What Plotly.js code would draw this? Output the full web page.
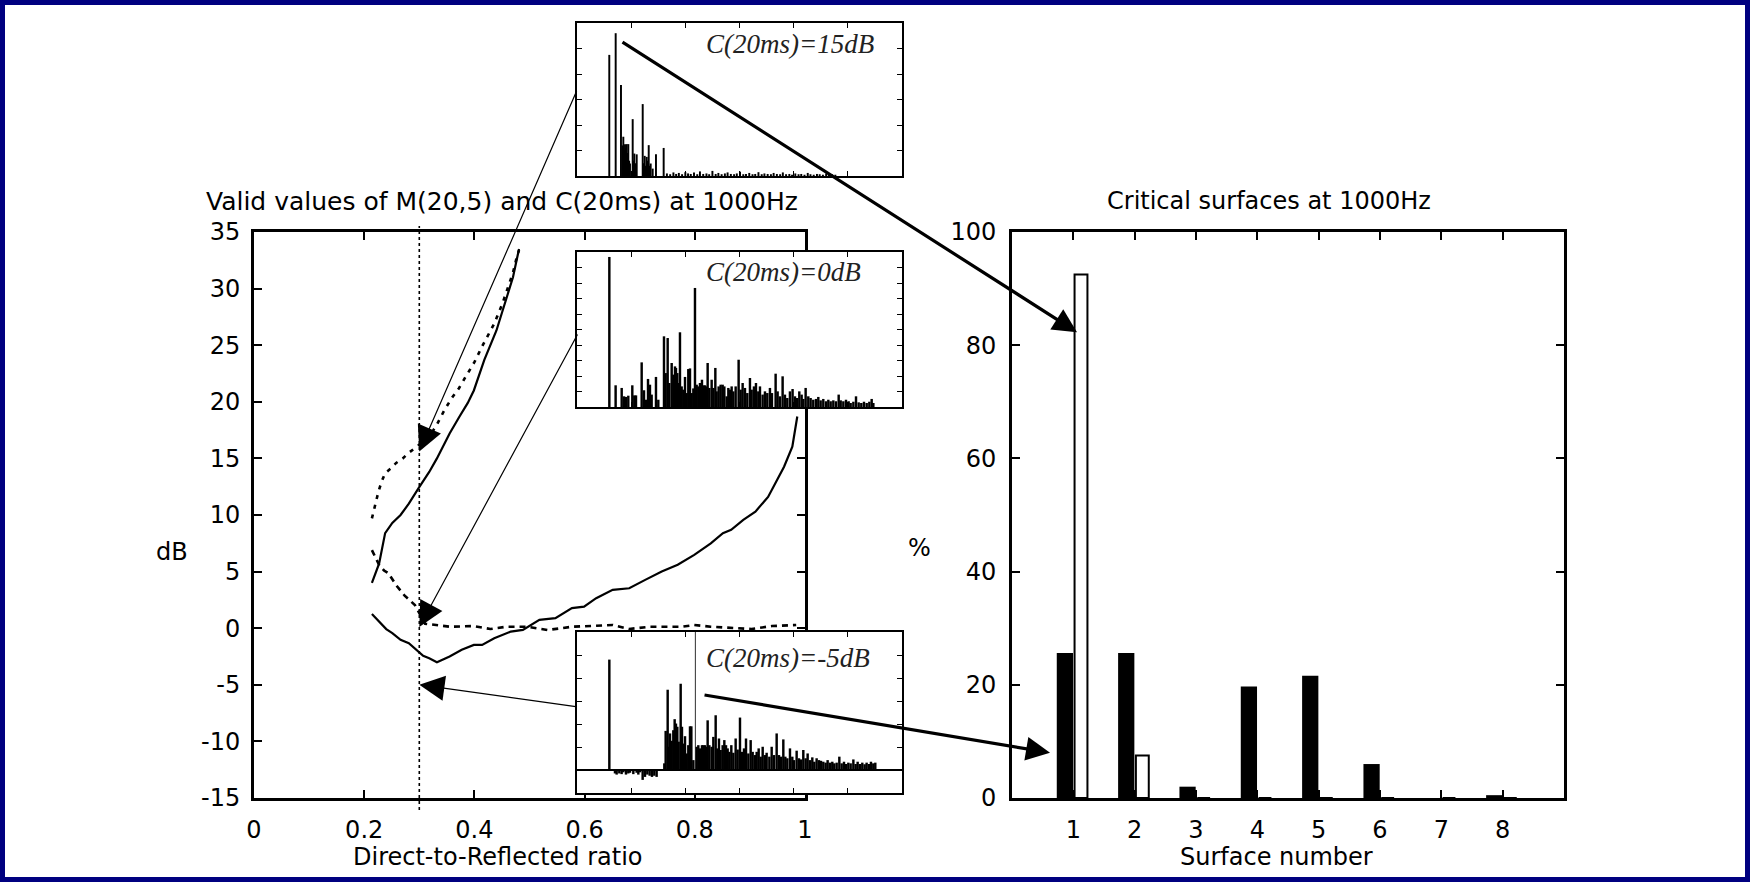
<!DOCTYPE html>
<html><head><meta charset="utf-8">
<script src="https://cdn.plot.ly/plotly-3.0.1.min.js"></script>
<style>html,body{margin:0;padding:0;background:#fff;}#chart{width:1750px;height:882px;}</style>
</head><body><div id="chart"></div>
<script>
// ---------- Left chart: valid values of M(20,5) and C(20ms) ----------
const solidUpperX = [0.214,0.227,0.238,0.251,0.266,0.281,0.299,0.318,0.332,0.355,0.373,0.388,0.399,0.418,0.440,0.458,0.470,0.481];
const solidUpperY = [4.0,5.7,8.4,9.3,10.0,11.0,12.4,13.8,15.0,17.2,18.7,19.9,21.0,23.7,26.3,29.0,31.0,33.5];
const dottedUpperX = [0.214,0.220,0.226,0.232,0.238,0.248,0.258,0.270,0.281,0.292,0.303,0.318,0.332,0.346,0.360,0.372,0.384,0.400,0.414,0.426,0.436,0.451,0.462,0.470,0.477,0.481];
const dottedUpperY = [9.7,11.0,12.1,13.0,13.7,14.1,14.6,15.0,15.5,15.9,16.3,16.9,18.0,19.3,20.4,21.2,22.2,23.5,24.9,26.0,26.9,28.7,30.2,31.4,32.8,33.4];
const dottedLowerX = [0.214,0.220,0.227,0.236,0.244,0.258,0.273,0.292,0.300,0.3105,0.355,0.399,0.429,0.458,0.496,0.533,0.577,0.651,0.681,0.718,0.777,0.799,0.829,0.903,0.940,0.984];
const dottedLowerY = [6.9,6.3,5.6,5.1,4.85,3.8,2.9,2.05,1.3,0.4,0.13,0.19,-0.07,0.13,0.13,-0.16,0.13,0.28,-0.07,0.13,0.13,0.28,0.13,-0.07,0.19,0.28];
const solidLowerX = [0.214,0.229,0.240,0.251,0.266,0.281,0.295,0.307,0.318,0.332,0.355,0.377,0.399,0.414,0.436,0.466,0.488,0.518,0.547,0.577,0.599,0.621,0.651,0.681,0.710,0.740,0.769,0.799,0.829,0.851,0.866,0.888,0.910,0.933,0.962,0.977,0.986];
const solidLowerY = [1.25,0.45,-0.08,-0.43,-1.02,-1.32,-1.91,-2.44,-2.65,-3.0,-2.5,-1.91,-1.48,-1.48,-0.89,-0.3,-0.15,0.74,0.89,1.77,1.91,2.65,3.39,3.53,4.27,5.0,5.6,6.48,7.5,8.4,8.69,9.57,10.3,11.6,14.27,16.03,18.7];
const markerRatio = 0.3;
const leftXTicks = [0,0.2,0.4,0.6,0.8,1];
const leftXTickText = ['0','0.2','0.4','0.6','0.8','1'];
const leftYTicks = [-15,-10,-5,0,5,10,15,20,25,30,35];
const leftYTickText = ['-15','-10','-5','0','5','10','15','20','25','30','35'];

// ---------- Right chart: critical surfaces ----------
const surfaces = [1,2,3,4,5,6,7,8];
const filledPct = [25.6,25.6,2.0,19.7,21.6,6.0,0,0.5];
const openPct = [92.5,7.5,0,0,0,0,0,0];
const rightYTicks = [0,20,40,60,80,100];

// ---------- Inset impulse responses ----------
const inset1X = [0.596,0.714,0.812,0.84,0.855,0.87,0.886,0.902,0.917,0.932,0.947,0.962,0.978,1.028,1.043,1.058,1.08,1.102,1.213,1.23,1.25,1.268,1.287,1.305,1.324,1.342,1.36,1.397,1.458,1.6,
 1.66,1.72,1.78,1.83,1.88,1.94,2.0,2.05,2.1,2.16,2.22,2.27,2.33,2.39,2.44,2.5,2.56,2.61,2.67,2.73,2.78,2.84,2.9,2.95,3.01,3.07,3.12,3.18,3.24,3.29,3.35,3.41,3.46,3.52,3.58,3.63,3.69,3.75,3.8,3.86,3.92,3.97,4.03,4.09,4.14,4.2,4.26,4.31,4.37,4.43,4.48,4.54,4.6,4.65,4.71,4.77];
const inset1Y = [4.75,5.6,3.57,1.2,1.54,1.0,1.25,1.1,1.25,0.9,1.25,0.6,0.49,2.23,0.6,0.88,0.5,0.85,2.82,0.5,0.79,0.4,0.75,0.6,1.21,0.4,0.49,0.29,0.85,1.1,
 0.1,0.07,0.14,0.08,0.12,0.07,0.15,0.1,0.08,0.14,0.07,0.18,0.08,0.1,0.07,0.2,0.08,0.12,0.07,0.1,0.14,0.08,0.07,0.1,0.17,0.07,0.08,0.12,0.07,0.08,0.15,0.07,0.1,0.08,0.07,0.12,0.08,0.07,0.14,0.07,0.08,0.05,0.1,0.07,0.08,0.05,0.12,0.07,0.05,0.08,0.07,0.05,0.1,0.05,0.07,0.05];

const inset2X = [0.597,0.713,0.825,0.868,0.905,0.947,1.021,1.058,1.089,1.194,1.237,1.274,1.311,1.347,1.378,1.458,1.501,1.606,1.637,1.674,1.704,1.748,1.778,1.809,1.827,1.852,1.877,1.901,1.932,1.963,1.994,2.024,2.055,2.086,2.117,2.148,2.178,2.209,2.24,2.27,2.307,2.332,2.363,2.394,2.412,2.443,2.486,2.517,2.554,2.578,2.615,2.652,2.689,2.72,2.763,2.794,2.824,2.855,2.886,2.929,2.984,3.021,3.058,3.101,3.144,3.193,3.224,3.267,3.304,3.347,3.378,3.427,3.47,3.513,3.562,3.599,3.667,3.704,3.747,3.796,3.839,3.882,3.931,3.98,4.024,4.061,4.104,4.147,4.178,4.221,4.27,4.313,4.362,4.412,4.455,4.498,4.547,4.597,4.64,4.683,4.732,4.781,4.831,4.868,4.917,4.966,5.015,5.052,5.102,5.151,5.2,5.249,5.298,5.348,5.397,5.44,5.471];
const inset2Y = [9.68,1.4,1.23,0.69,0.65,0.73,1.4,0.75,0.75,2.88,1.08,0.47,1.81,1.44,0.8,1.94,0.47,4.56,2.19,4.45,1.55,2.84,2.09,2.62,2.52,2.19,1.55,4.82,1.33,1.12,1.94,0.9,2.45,2.49,0.9,1.2,7.68,1.44,1.33,1.55,1.76,1.4,1.4,1.33,2.84,1.23,1.76,1.23,2.52,1.01,1.33,1.44,1.44,1.33,0.69,1.23,1.12,1.33,1.01,1.33,3.05,1.12,1.55,1.23,0.9,1.87,1.12,1.33,1.55,1.01,1.33,0.8,1.01,0.9,1.23,0.9,2.15,1.01,0.69,1.98,0.8,0.58,1.01,1.16,0.69,0.58,1.01,0.8,0.52,1.23,0.69,0.58,0.47,0.52,0.65,0.43,0.52,0.37,0.47,0.37,0.43,0.37,0.8,0.43,0.37,0.47,0.37,0.26,0.34,0.69,0.3,0.26,0.34,0.26,0.34,0.52,0.26];

const inset3X = [0.597,0.701,0.732,0.781,0.824,0.855,0.904,0.947,0.978,1.04,1.101,1.132,1.163,1.212,1.255,1.298,1.341,1.384,1.427,1.47,
 1.612,1.637,1.674,1.698,1.717,1.748,1.778,1.803,1.827,1.852,1.877,1.914,1.938,1.963,1.994,2.024,2.055,2.086,2.111,2.148,
 2.209,2.240,2.270,2.307,2.332,2.363,2.394,2.412,2.443,2.486,2.517,2.560,2.591,2.621,2.652,2.689,2.720,2.751,2.781,2.812,2.849,2.886,2.929,2.966,3.009,3.046,3.083,3.120,3.163,3.206,3.243,3.286,3.317,3.354,3.391,3.428,3.471,3.501,3.551,3.594,3.637,3.686,3.729,3.766,3.809,3.846,3.883,3.932,3.975,4.006,4.055,4.098,4.135,4.178,4.221,4.258,4.301,4.344,4.381,4.424,4.467,4.504,4.547,4.590,4.627,4.670,4.713,4.750,4.794,4.843,4.886,4.929,4.966,5.009,5.052,5.102,5.144,5.181,5.224,5.267,5.310,5.347,5.390,5.427,5.470,5.507];
const inset3Y = [4.8,-0.15,-0.2,-0.15,-0.18,-0.1,-0.2,-0.15,-0.12,-0.18,-0.12,-0.2,-0.1,-0.43,-0.3,-0.2,-0.25,-0.3,-0.25,-0.3,
 0.29,1.7,3.49,1.01,1.59,1.27,1.73,2.21,2.02,1.88,1.23,3.75,1.88,1.15,1.47,0.72,1.08,1.9,1.9,0.43,
 1.01,1.08,0.94,1.08,1.08,1.08,1.01,2.16,1.08,1.01,1.44,2.38,0.94,1.37,0.87,1.08,1.3,1.08,0.94,0.79,1.08,0.75,1.37,0.89,2.28,0.79,0.94,1.37,0.72,1.3,0.79,0.65,0.79,0.94,0.58,1.01,0.65,0.75,0.58,1.01,0.65,1.59,0.65,0.58,1.33,0.58,0.51,0.94,0.58,0.43,0.84,0.51,0.46,0.87,0.51,0.72,0.43,0.55,0.36,0.51,0.43,0.4,0.36,0.32,0.43,0.32,0.36,0.29,0.32,0.58,0.29,0.36,0.26,0.32,0.29,0.46,0.26,0.36,0.26,0.32,0.25,0.32,0.26,0.36,0.29,0.32];
const inset3MarkerX = [2.184];
const inset3MarkerY = [6];

const insetLabels = ['C(20ms)=15dB','C(20ms)=0dB','C(20ms)=-5dB'];

// ---------- layout helpers (pixel geometry) ----------
const W = 1750, H = 882;
const fx = v => v / W;
const fy = v => 1 - v / H;
const SANS = 'DejaVu Sans';

const mainAxis = {showline:true, linewidth:3, linecolor:'#000', mirror:'ticks', ticks:'inside', ticklen:8, tickwidth:2, tickcolor:'#000',
  showgrid:false, zeroline:false, tickfont:{family:SANS, size:24, color:'#000'}, fixedrange:true};
const insetAxis = {showline:true, linewidth:2, linecolor:'#000', mirror:'ticks', ticks:'inside', ticklen:5, tickwidth:1, tickcolor:'#000',
  showgrid:false, zeroline:false, showticklabels:false, tick0:0, dtick:1, fixedrange:true};

const lineTrace = (x, y, dash) => ({type:'scatter', mode:'lines', x:x, y:y, xaxis:'x', yaxis:'y',
  line:{color:'#000', width: dash ? 2.6 : 2.2, dash: dash || 'solid'}, hoverinfo:'skip'});
const spikeTrace = (x, y, ax, w) => ({type:'bar', x:x, y:y, xaxis:'x'+ax, yaxis:'y'+ax, width:w,
  marker:{color:'#000', line:{width:0}}, hoverinfo:'skip'});

const data = [
  lineTrace(solidUpperX, solidUpperY),
  lineTrace(dottedUpperX, dottedUpperY, '4px,6px'),
  lineTrace(dottedLowerX, dottedLowerY, '6px,5px'),
  lineTrace(solidLowerX, solidLowerY),
  {type:'bar', x:surfaces, y:filledPct, xaxis:'x2', yaxis:'y2', width:0.265, offset:-0.27,
    marker:{color:'#000', line:{width:0}}, hoverinfo:'skip'},
  {type:'bar', x:surfaces, y:openPct, xaxis:'x2', yaxis:'y2', width:0.21, offset:0.02,
    marker:{color:'#fff', line:{width:2, color:'#000'}}, hoverinfo:'skip'},
  spikeTrace(inset1X, inset1Y, 3, 0.036),
  spikeTrace(inset2X, inset2Y, 4, 0.045),
  spikeTrace(inset3X, inset3Y, 5, 0.045),
  spikeTrace(inset3MarkerX, inset3MarkerY, 5, 0.015)
];

const ann = (text, x, y, size, opts) => Object.assign({text:text, xref:'paper', yref:'paper', x:fx(x), y:fy(y),
  showarrow:false, xanchor:'center', yanchor:'middle', font:{family:SANS, size:size, color:'#000'}}, opts || {});
const serif = {family:'Liberation Serif', size:27, color:'#222'};

const annotations = [
  ann('Valid values of M(20,5) and C(20ms) at 1000Hz', 502, 201, 25),
  ann('Direct-to-Reflected ratio', 498, 857, 24),
  ann('dB', 172, 552, 24),
  ann('Critical surfaces at 1000Hz', 1269, 201, 24),
  ann('Surface number', 1276, 857, 24),
  ann('%', 919, 548, 24),
  ann('<i>'+insetLabels[0]+'</i>', 704, 44, 27, {xanchor:'left', font:serif}),
  ann('<i>'+insetLabels[1]+'</i>', 704, 272, 27, {xanchor:'left', font:serif}),
  ann('<i>'+insetLabels[2]+'</i>', 704, 658, 27, {xanchor:'left', font:serif}),
  // thin arrows from the insets to the left chart
  {text:'', xref:'x', yref:'y', x:markerRatio, y:15.6, ax:158, ay:-362, showarrow:true, arrowhead:2, arrowsize:4.2, arrowwidth:1.2, arrowcolor:'#000'},
  {text:'', xref:'x', yref:'y', x:markerRatio, y:0.1, ax:159, ay:-294, showarrow:true, arrowhead:2, arrowsize:4.2, arrowwidth:1.2, arrowcolor:'#000'},
  {text:'', xref:'x', yref:'y', x:markerRatio, y:-5, ax:158, ay:22, showarrow:true, arrowhead:2, arrowsize:4.2, arrowwidth:1.2, arrowcolor:'#000'},
  // thick arrows from the insets to the right chart
  {text:'', xref:'x2', yref:'y2', x:1.06, y:82.3, ax:-456, ay:-291, showarrow:true, arrowhead:2, arrowsize:1.5, arrowwidth:3.2, arrowcolor:'#000'},
  {text:'', xref:'x2', yref:'y2', x:0.62, y:8.0, ax:-347, ay:-58, showarrow:true, arrowhead:2, arrowsize:1.5, arrowwidth:3.2, arrowcolor:'#000'}
];

const shapes = [
  {type:'rect', xref:'paper', yref:'paper', x0:0, x1:1, y0:0, y1:1, line:{color:'#000080', width:10}, fillcolor:'rgba(0,0,0,0)', layer:'above'},
  {type:'line', xref:'x', yref:'paper', x0:markerRatio, x1:markerRatio, y0:fy(810), y1:fy(226), line:{color:'#000', width:1.6, dash:'3px,3px'}, layer:'above'}
];

const layout = {
  width:W, height:H, margin:{l:0, r:0, t:0, b:0, pad:0},
  paper_bgcolor:'#fff', plot_bgcolor:'#fff', showlegend:false, hovermode:false, barmode:'overlay',
  font:{family:SANS, size:24, color:'#000'},
  xaxis: Object.assign({}, mainAxis, {domain:[fx(254), fx(805)], range:[0,1], tickvals:leftXTicks, ticktext:leftXTickText, anchor:'y', ticklabelstandoff:8}),
  yaxis: Object.assign({}, mainAxis, {domain:[fy(798), fy(232)], range:[-15,35], tickvals:leftYTicks, ticktext:leftYTickText, anchor:'x', ticklabelstandoff:6}),
  xaxis2: Object.assign({}, mainAxis, {domain:[fx(1012), fx(1564)], range:[0,9], tickvals:surfaces, anchor:'y2', ticklabelstandoff:8}),
  yaxis2: Object.assign({}, mainAxis, {domain:[fy(798), fy(232)], range:[0,100], tickvals:rightYTicks, anchor:'x2', ticklabelstandoff:8}),
  xaxis3: Object.assign({}, insetAxis, {domain:[fx(577), fx(902)], range:[0,6], anchor:'y3'}),
  yaxis3: Object.assign({}, insetAxis, {domain:[fy(176), fy(23)], range:[0,6], anchor:'x3'}),
  xaxis4: Object.assign({}, insetAxis, {domain:[fx(577), fx(902)], range:[0,6], anchor:'y4'}),
  yaxis4: Object.assign({}, insetAxis, {domain:[fy(407), fy(252)], range:[0,10], anchor:'x4'}),
  xaxis5: Object.assign({}, insetAxis, {domain:[fx(577), fx(902)], range:[0,6], anchor:'y5'}),
  yaxis5: Object.assign({}, insetAxis, {domain:[fy(793), fy(632)], range:[-1,6], anchor:'x5', zeroline:true, zerolinecolor:'#000', zerolinewidth:1.2}),
  annotations: annotations,
  shapes: shapes
};

Plotly.newPlot('chart', data, layout, {displayModeBar:false, staticPlot:true});
</script></body></html>
